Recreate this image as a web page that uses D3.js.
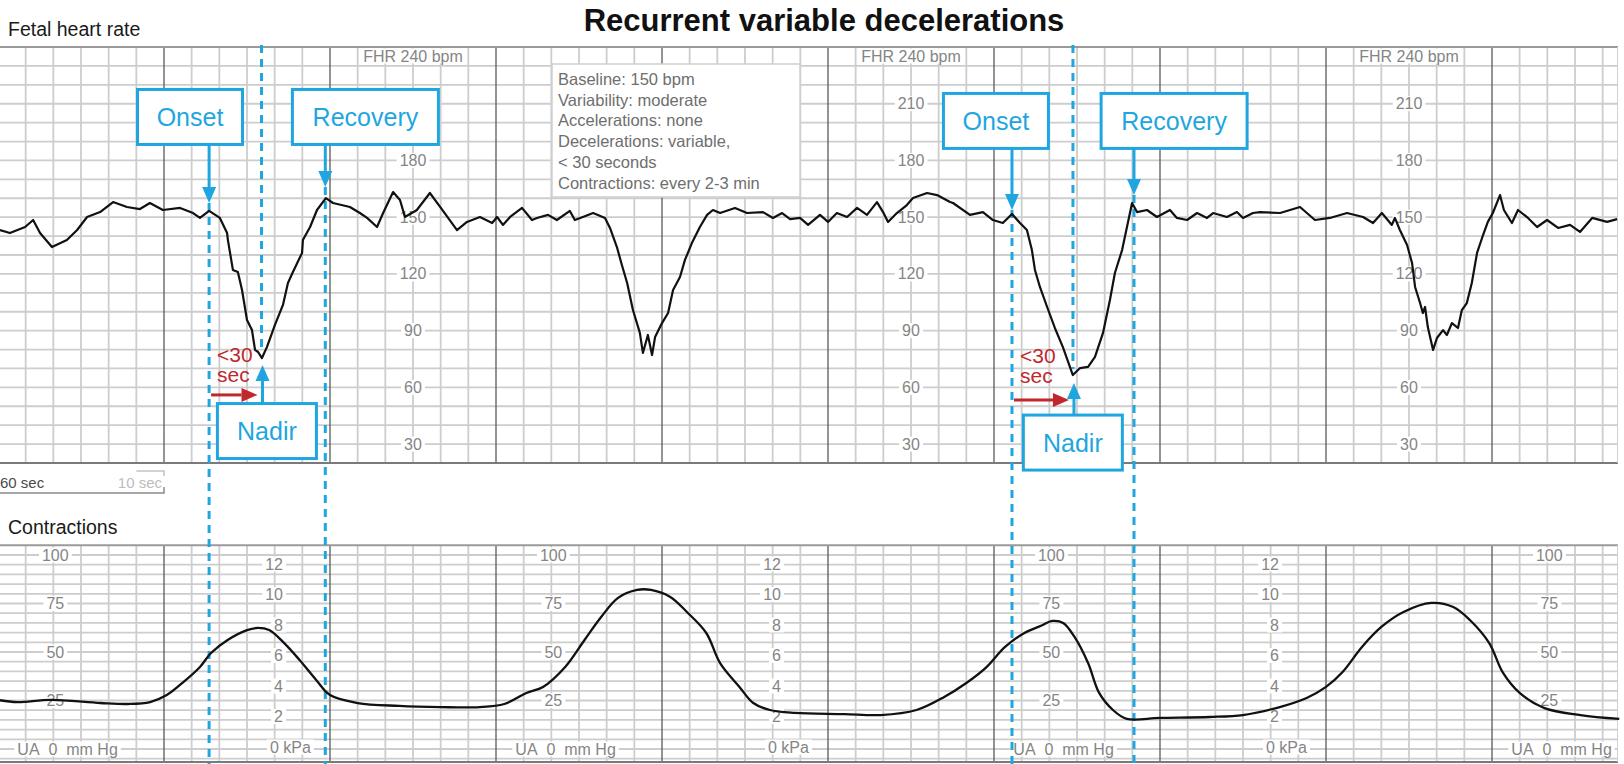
<!DOCTYPE html>
<html>
<head>
<meta charset="utf-8">
<script src="https://cdn.jsdelivr.net/npm/d3@7"></script>
<style>
    body { margin: 0; background: #fff; }
    svg { display: block; font-family: "Liberation Sans", Arial, sans-serif; }
</style>
</head>
<body>
<svg id="chart" width="1624" height="764"></svg>
<script>
// fetal heart rate trace: [seconds, bpm]
const fhrSeries = [
    [0.7,143.2],[4.3,141.6],[9.8,144.8],[12.7,148.5],[15.2,141.6],[19.5,134.2],[24.9,137.9],[28.6,143.2],
    [32.2,150.1],[36.9,152.7],[41.6,158.0],[46.6,155.4],[51.3,154.3],[54.9,157.5],[59.6,153.8],[65.8,154.9],
    [70.5,152.2],[73.0,149.6],[76.3,153.3],[80.2,149.6],[82.8,141.6],[83.1,137.9],[84.9,122.1],[86.7,121.0],
    [88.2,111.5],[90.0,95.6],[91.8,90.3],[92.9,79.8],[94.0,78.7],[95.4,75.5],[97.2,81.3],[100.1,93.0],
    [103.0,103.6],[104.8,115.2],[106.6,121.0],[109.9,131.1],[110.2,137.9],[112.8,144.8],[115.3,153.8],
    [118.5,160.1],[121.1,157.5],[127.2,155.4],[130.8,152.2],[133.4,149.6],[137.0,144.8],[139.2,152.2],
    [142.8,163.3],[145.3,159.1],[147.1,150.1],[151.4,153.8],[156.1,162.8],[159.8,155.4],[165.9,143.2],
    [169.5,147.5],[174.2,150.1],[178.6,146.9],[180.4,150.1],[182.5,145.9],[185.1,150.1],[189.4,154.9],
    [193.0,148.5],[194.8,149.6],[198.8,151.2],[202.0,148.5],[206.7,153.3],[208.5,148.5],[211.4,150.1],
    [215.1,152.2],[219.4,149.6],[221.2,144.3],[223.7,134.2],[225.5,124.7],[227.4,115.2],[229.5,100.9],
    [232.0,88.8],[233.1,78.2],[234.9,87.7],[236.4,77.1],[237.5,86.6],[240.0,94.0],[242.2,99.3],
    [244.0,111.5],[246.5,118.4],[248.3,127.4],[250.8,136.3],[253.7,144.8],[256.3,151.2],[258.4,153.8],
    [261.0,152.2],[266.4,154.9],[270.7,152.2],[276.5,152.7],[280.1,149.6],[283.4,152.2],[286.3,149.0],
    [289.9,149.6],[292.8,145.9],[297.1,151.2],[300.0,147.5],[303.2,152.2],[306.9,150.1],[310.5,154.9],
    [314.1,151.2],[317.7,158.0],[319.9,152.7],[321.7,147.5],[324.9,152.2],[328.5,156.4],[330.7,160.1],
    [335.8,162.8],[339.4,161.7],[344.1,158.0],[345.2,157.5],[351.3,151.2],[356.0,152.7],[359.6,148.5],
    [363.2,146.9],[366.5,151.7],[369.4,146.9],[371.9,143.2],[373.7,132.6],[374.8,122.1],[376.6,113.1],
    [379.2,102.5],[382.0,91.4],[384.9,81.3],[388.5,66.5],[391.1,70.2],[394.0,70.8],[396.5,76.1],
    [399.4,88.8],[401.9,106.2],[403.7,120.5],[406.3,132.6],[409.9,157.5],[411.7,152.7],[415.3,153.8],
    [418.9,150.1],[423.6,153.8],[426.1,149.6],[429.8,148.5],[433.4,152.2],[437.0,149.6],[439.2,152.2],
    [444.2,150.1],[447.8,152.7],[450.0,149.6],[453.6,152.2],[456.1,152.7],[463.4,152.2],[470.6,155.4],
    [476.0,148.5],[481.4,149.6],[487.6,152.2],[493.4,150.1],[497.0,146.9],[500.2,152.2],[503.8,145.9],
    [504.9,149.6],[506.7,143.2],[509.3,135.3],[511.1,125.8],[512.2,113.1],[514.0,104.6],[515.0,99.3],
    [515.8,102.5],[516.8,91.9],[518.7,79.8],[520.1,86.1],[522.3,90.3],[523.7,87.7],[525.5,94.0],
    [527.7,91.4],[529.1,100.9],[530.9,104.6],[532.7,115.2],[534.6,131.1],[536.4,139.0],[538.5,147.5],
    [540.3,152.2],[542.9,161.7],[544.3,153.8],[547.2,146.9],[549.4,153.8],[553.0,149.6],[556.3,144.8],
    [559.9,148.5],[563.9,144.3],[568.2,145.9],[571.8,142.2],[576.2,149.6],[581.6,147.5],[585.2,149.0]
];

// uterine activity trace: [seconds, mm Hg]
const uaSeries = [
    [0,25.3],[7,24.2],[19,25.3],[37,23.7],[47,23.2],[55,24.2],[61,27.8],[67,34.5],[73,42.3],[77,49.5],
    [83,56.2],[90,61.3],[94,62.4],[98,61.3],[103,55.2],[109,45.9],[115,35.6],[120,27.8],[130,23.7],
    [145,22.2],[160,21.6],[174,21.6],[183,23.2],[191,28.9],[197,32.0],[205,42.3],[212,56.2],[218,68.0],
    [224,77.8],[231,82.0],[236,82.0],[243,78.4],[249,70.6],[256,59.8],[261,44.3],[268,32.0],[273,23.7],
    [279,20.1],[288,18.6],[306,18.0],[319,17.5],[332,20.1],[342,26.8],[350,34.0],[357,41.8],[364,52.6],
    [371,59.8],[377,63.5],[381,66.0],[385,65.0],[389,58.0],[394,44.3],[398,28.9],[403,20.1],[408,15.5],
    [420,16.0],[438,16.5],[450,17.5],[462,21.1],[473,26.3],[480,32.0],[486,39.7],[493,52.6],[500,62.9],
    [508,70.6],[518,75.3],[526,73.2],[532,66.5],[539,54.6],[544,39.2],[550,28.9],[559,21.1],[572,17.5],
    [586,15.5]
];

// tick labels and where the label columns repeat (seconds)
const fhrTicks = [210, 180, 150, 120, 90, 60, 30];
const fhrLabelSecs = [150, 330, 510];
const uaTicks = [100, 75, 50, 25];
const uaLabelSecs = [20, 200, 380, 560];
const kpaTicks = [12, 10, 8, 6, 4, 2];
const kpaLabelSecs = [103, 283, 463];

// deceleration markers: onset / nadir / recovery times (s) and the bpm the arrows point at
const decels = [
    {onset: 76.3, onsetBpm: 157.5, nadir: 95.6, nadirBpm: 71.8, recovery: 118.3, recoveryBpm: 166.0},
    {onset: 366.5, onsetBpm: 153.8, nadir: 388.9, nadirBpm: 62.3, recovery: 410.6, recoveryBpm: 161.7}
];

const summary = [
    'Baseline: 150 bpm',
    'Variability: moderate',
    'Accelerations: none',
    'Decelerations: variable,',
    '< 30 seconds',
    'Contractions: every 2-3 min'
];

const BLUE = '#1fa6e0';
const RED = '#c0282e';
const right = 1618;

const svg = d3.select('#chart');

const x = d3.scaleLinear().domain([0, 600]).range([-2, 1658]);
const yF = d3.scaleLinear().domain([20, 240]).range([463, 47]);
const yU = d3.scaleLinear().domain([0, 100]).range([749, 555]);
const yK = d3.scaleLinear().domain([0, 12]).range([747, 564]);
const uaTop = yU(105), uaBottom = 762;

svg.append('defs').append('clipPath').attr('id', 'clip')
    .append('rect').attr('x', 0).attr('y', 0).attr('width', right).attr('height', 764);

const grid = svg.append('g').attr('clip-path', 'url(#clip)');
const secs = d3.range(0, 600, 10).filter(t => x(t) <= right + 1);

// horizontal grid
grid.selectAll('.hf').data(d3.range(30, 240, 10)).enter().append('line')
    .attr('x1', 0).attr('x2', right)
    .attr('y1', d => yF(d)).attr('y2', d => yF(d))
    .attr('stroke', '#cdcdcd').attr('stroke-width', 1.8);
grid.selectAll('.hu').data(d3.range(-5, 105, 5)).enter().append('line')
    .attr('x1', 0).attr('x2', right)
    .attr('y1', d => yU(d)).attr('y2', d => yU(d))
    .attr('stroke', '#cdcdcd').attr('stroke-width', 1.8);

// vertical grid, heavier every minute
[[yF(240), yF(20)], [uaTop, uaBottom]].forEach(([y0, y1]) => {
    grid.append('g').selectAll('line').data(secs).enter().append('line')
        .attr('x1', d => x(d)).attr('x2', d => x(d))
        .attr('y1', y0).attr('y2', y1)
        .attr('stroke', d => d % 60 === 0 ? '#5a5a5a' : '#cdcdcd')
        .attr('stroke-width', d => d % 60 === 0 ? 1.3 : 1.8);
});

// panel borders
[yF(240), uaTop].forEach(y => grid.append('line').attr('x1', 0).attr('x2', right)
    .attr('y1', y).attr('y2', y).attr('stroke', '#9a9a9a').attr('stroke-width', 2));
[yF(20), uaBottom].forEach(y => grid.append('line').attr('x1', 0).attr('x2', right)
    .attr('y1', y).attr('y2', y).attr('stroke', '#7a7a7a').attr('stroke-width', 2));
grid.append('line').attr('x1', right).attr('x2', right).attr('y1', yF(240)).attr('y2', yF(20))
    .attr('stroke', '#cdcdcd').attr('stroke-width', 1.8);
grid.append('line').attr('x1', right).attr('x2', right).attr('y1', uaTop).attr('y2', uaBottom)
    .attr('stroke', '#cdcdcd').attr('stroke-width', 1.8);

// scale labels, each on a small white patch that breaks the grid behind it
const labels = svg.append('g').attr('font-size', 16).attr('fill', '#858585');

function gridLabel(px, py, anchor, txt) {
    const t = labels.append('text').attr('x', px).attr('y', py)
        .attr('text-anchor', anchor).attr('dominant-baseline', 'central').text(txt);
    const b = t.node().getBBox();
    labels.insert('rect', () => t.node())
        .attr('x', b.x - 3).attr('y', b.y + 1).attr('width', b.width + 6).attr('height', b.height - 2)
        .attr('fill', '#fff');
}

fhrLabelSecs.forEach((t, i) => {
    gridLabel(x(t), yF(240) + 9, 'middle', 'FHR 240 bpm');
    // first column's 210 sits under the Recovery box
    fhrTicks.filter(v => !(i === 0 && v === 210))
        .forEach(v => gridLabel(x(t), yF(v), 'middle', v));
});
uaLabelSecs.forEach(t => {
    uaTicks.forEach(v => gridLabel(x(t) + 2, yU(v), 'middle', v));
    gridLabel(x(t) - 36, yU(0), 'start', 'UA\u00a0\u00a00\u00a0\u00a0mm Hg');
});
kpaLabelSecs.forEach(t => {
    kpaTicks.forEach(v => gridLabel(x(t), yK(v), 'end', v));
    gridLabel(x(t) - 13, yK(0), 'start', '0\u00a0kPa');
});

// titles
svg.append('text').attr('x', 824).attr('y', 31).attr('text-anchor', 'middle')
    .attr('font-size', 31).attr('font-weight', 'bold').attr('fill', '#111')
    .text('Recurrent variable decelerations');
svg.append('text').attr('x', 8).attr('y', 36).attr('font-size', 19.5).attr('fill', '#1a1a1a')
    .text('Fetal heart rate');
svg.append('text').attr('x', 8).attr('y', 534).attr('font-size', 19.5).attr('fill', '#1a1a1a')
    .text('Contractions');

// time scale bar
const bar = svg.append('g');
bar.append('text').attr('x', 0).attr('y', 488).attr('font-size', 15).attr('fill', '#4a4a4a').text('60 sec');
bar.append('text').attr('x', x(60) - 2).attr('y', 488).attr('font-size', 15).attr('fill', '#bdbdbd')
    .attr('text-anchor', 'end').text('10 sec');
bar.append('path').attr('d', `M0,493H${x(60)}V487`).attr('fill', 'none')
    .attr('stroke', '#8a8a8a').attr('stroke-width', 1.5);
bar.append('path').attr('d', `M${x(50)},471H${x(60)}V476`).attr('fill', 'none')
    .attr('stroke', '#c4c4c4').attr('stroke-width', 1.5);

// summary box
const info = svg.append('g');
info.append('rect').attr('x', 552).attr('y', 64).attr('width', 248).attr('height', 133)
    .attr('fill', '#fff').attr('stroke', '#cfcfcf').attr('stroke-width', 1.5);
info.selectAll('text').data(summary).enter().append('text')
    .attr('x', 558).attr('y', (d, i) => 85 + i * 20.7)
    .attr('font-size', 16.5).attr('fill', '#6e6e6e').text(d => d);

// dashed guide lines
const guides = svg.append('g').attr('stroke', BLUE).attr('stroke-width', 3)
    .attr('stroke-dasharray', '8,6');
decels.forEach(d => {
    guides.append('line').attr('x1', x(d.onset)).attr('x2', x(d.onset))
        .attr('y1', yF(d.onsetBpm)).attr('y2', 764);
    guides.append('line').attr('x1', x(d.recovery)).attr('x2', x(d.recovery))
        .attr('y1', yF(d.recoveryBpm)).attr('y2', 764);
    guides.append('line').attr('x1', x(d.nadir) - 1).attr('x2', x(d.nadir) - 1)
        .attr('y1', yF(241)).attr('y2', yF(d.nadirBpm) - 14);
});

// traces
svg.append('path').datum(uaSeries)
    .attr('fill', 'none').attr('stroke', '#111').attr('stroke-width', 2.3)
    .attr('d', d3.line().x(d => x(d[0])).y(d => yU(d[1])).curve(d3.curveCatmullRom));
svg.append('path').datum(fhrSeries)
    .attr('fill', 'none').attr('stroke', '#111').attr('stroke-width', 2.2)
    .attr('stroke-linejoin', 'round')
    .attr('d', d3.line().x(d => x(d[0])).y(d => yF(d[1])));

// annotation boxes and arrows
const notes = svg.append('g');

function arrow(x0, y0, x1, y1, color) {
    const a = Math.atan2(y1 - y0, x1 - x0), len = 16, hw = 7;
    const bx = x1 - len * Math.cos(a), by = y1 - len * Math.sin(a);
    notes.append('line').attr('x1', x0).attr('y1', y0).attr('x2', bx).attr('y2', by)
        .attr('stroke', color).attr('stroke-width', 3);
    notes.append('path')
        .attr('d', `M${x1},${y1}L${bx - hw * Math.sin(a)},${by + hw * Math.cos(a)}L${bx + hw * Math.sin(a)},${by - hw * Math.cos(a)}Z`)
        .attr('fill', color);
}

function box(cx, cy, w, h, label) {
    notes.append('rect').attr('x', cx - w / 2).attr('y', cy - h / 2).attr('width', w).attr('height', h)
        .attr('fill', '#fff').attr('stroke', BLUE).attr('stroke-width', 3);
    notes.append('text').attr('x', cx).attr('y', cy).attr('text-anchor', 'middle')
        .attr('dominant-baseline', 'central').attr('font-size', 25).attr('fill', BLUE).text(label);
}

// box layout per deceleration: centres in seconds / bpm
const boxLayout = [
    {onset: [69.4, 203.0], recovery: [132.8, 203.0], nadir: [97.2, 36.9], red: 56.0, text: 73.4},
    {onset: [360.7, 200.9], recovery: [425.1, 200.9], nadir: [388.5, 30.8], red: 53.3, text: 72.9}
];
const boxH = 55;

decels.forEach((d, i) => {
    const L = boxLayout[i];
    box(x(L.onset[0]), yF(L.onset[1]), 105, boxH, 'Onset');
    arrow(x(d.onset), yF(L.onset[1]) + boxH / 2, x(d.onset), yF(d.onsetBpm), BLUE);
    box(x(L.recovery[0]), yF(L.recovery[1]), 146, boxH, 'Recovery');
    arrow(x(d.recovery), yF(L.recovery[1]) + boxH / 2, x(d.recovery), yF(d.recoveryBpm), BLUE);
    box(x(L.nadir[0]), yF(L.nadir[1]), 99, boxH, 'Nadir');
    arrow(x(d.nadir), yF(L.nadir[1]) - boxH / 2, x(d.nadir), yF(d.nadirBpm), BLUE);

    arrow(x(d.onset) + 2, yF(L.red), x(d.nadir) - 5, yF(L.red), RED);
    notes.append('text').attr('x', x(d.onset) + 8).attr('y', yF(L.text))
        .attr('font-size', 21).attr('fill', RED).text('<30');
    notes.append('text').attr('x', x(d.onset) + 8).attr('y', yF(L.text) + 20)
        .attr('font-size', 21).attr('fill', RED).text('sec');
});
</script>
</body>
</html>
